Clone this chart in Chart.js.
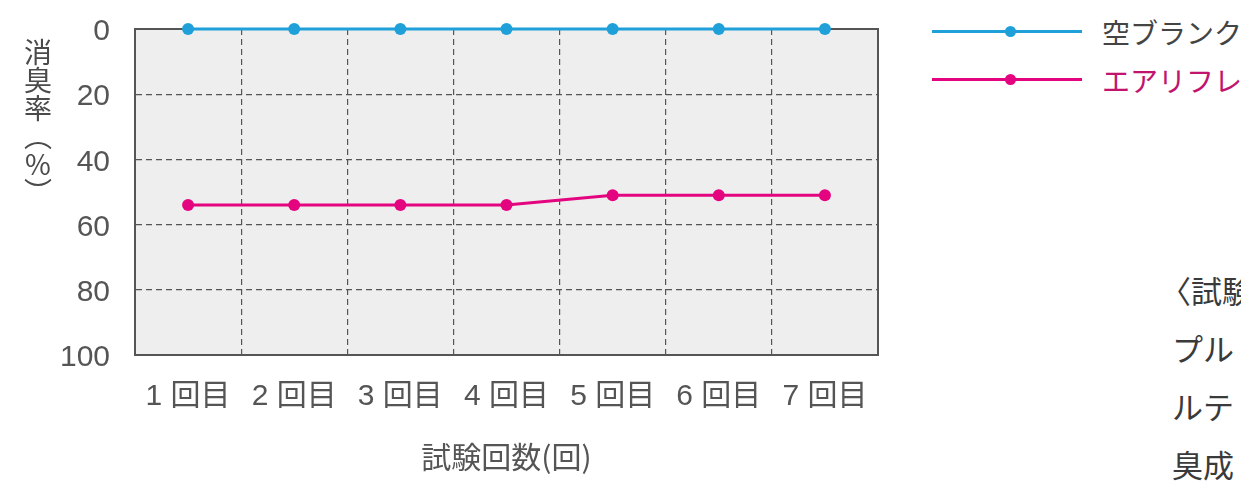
<!DOCTYPE html>
<html lang="ja">
<head>
<meta charset="UTF-8">
<title>消臭率</title>
<script src="https://cdn.jsdelivr.net/npm/chart.js"></script>
<style>
    html, body {
        margin: 0;
        padding: 0;
        width: 1241px;
        height: 483px;
        overflow: hidden;
        background: #ffffff;
        font-family: "Noto Sans CJK JP", "Liberation Sans", sans-serif;
    }
    .chart-box {
        position: absolute;
        left: 0;
        top: -14px;
        width: 900px;
        height: 497px;
    }
    .y-title {
        position: absolute;
        left: 23px;
        top: 38px;
        writing-mode: vertical-rl;
        text-orientation: upright;
        font-size: 28px;
        line-height: 30px;
        color: #4a4a4a;
    }
    .legend-row {
        position: absolute;
        left: 932px;
        height: 40px;
        white-space: nowrap;
    }
    .legend-line {
        position: absolute;
        left: 0;
        top: 18px;
        width: 150px;
        height: 3px;
    }
    .legend-dot {
        position: absolute;
        left: 73px;
        top: 14px;
        width: 11px;
        height: 11px;
        border-radius: 50%;
    }
    .legend-text {
        position: absolute;
        left: 170px;
        top: 0;
        font-size: 28px;
        line-height: 40px;
    }
    .note {
        position: absolute;
        left: 1172px;
        top: 261px;
        font-size: 31px;
        line-height: 58px;
        color: #3a3a3a;
        white-space: nowrap;
    }
</style>
</head>
<body>
    <div class="chart-box">
        <canvas id="shoshuChart"></canvas>
    </div>
    <div class="y-title">消臭率（%）</div>

    <div class="legend-row" style="top: 12px;">
        <div class="legend-line" style="background: #1fa0d8;"></div>
        <div class="legend-dot" style="background: #1fa0d8;"></div>
        <div class="legend-text" style="color: #444;">空ブランク</div>
    </div>
    <div class="legend-row" style="top: 60px;">
        <div class="legend-line" style="background: #e4047f;"></div>
        <div class="legend-dot" style="background: #e4047f;"></div>
        <div class="legend-text" style="color: #c0146f;">エアリフレ</div>
    </div>

    <div class="note"><span style="margin-left: -12px;">〈試験</span><br>プル<br>ルテ<br>臭成</div>

<script>
    // データ
    const kaisu = ['1 回目', '2 回目', '3 回目', '4 回目', '5 回目', '6 回目', '7 回目'];
    const blankData = [0, 0, 0, 0, 0, 0, 0];
    const airRefreData = [54, 54, 54, 54, 51, 51, 51];
    const yTicks = [0, 20, 40, 60, 80, 100];

    const fontTick = '"Liberation Sans", "Noto Sans CJK JP", sans-serif';

    // グラフ背景と枠
    const plotFrame = {
        id: 'plotFrame',
        beforeDraw(chart) {
            const { ctx, chartArea: a } = chart;
            ctx.save();
            ctx.fillStyle = '#eeeeee';
            ctx.fillRect(a.left, a.top, a.width, a.height);
            ctx.restore();
        },
        beforeDatasetsDraw(chart) {
            const { ctx, chartArea: a } = chart;
            ctx.save();
            ctx.strokeStyle = '#555555';
            ctx.lineWidth = 2;
            ctx.strokeRect(a.left, a.top, a.width, a.height);
            ctx.restore();
        }
    };

    const ctx = document.getElementById('shoshuChart').getContext('2d');
    new Chart(ctx, {
        type: 'line',
        data: {
            labels: kaisu,
            datasets: [
                {
                    label: '空ブランク',
                    data: blankData,
                    borderColor: '#1fa0d8',
                    backgroundColor: '#1fa0d8',
                    borderWidth: 3,
                    pointRadius: 6,
                    pointBorderWidth: 0,
                    tension: 0,
                    clip: false
                },
                {
                    label: 'エアリフレ',
                    data: airRefreData,
                    borderColor: '#e4047f',
                    backgroundColor: '#e4047f',
                    borderWidth: 3,
                    pointRadius: 6,
                    pointBorderWidth: 0,
                    tension: 0,
                    clip: false
                }
            ]
        },
        options: {
            responsive: true,
            maintainAspectRatio: false,
            animation: false,
            layout: {
                autoPadding: false,
                padding: { top: 14, right: 22, left: 0, bottom: 0 }
            },
            plugins: {
                legend: { display: false },
                tooltip: { enabled: false }
            },
            scales: {
                x: {
                    offset: true,
                    grid: {
                        offset: true,
                        color: '#555555',
                        lineWidth: 1.2,
                        drawTicks: false
                    },
                    border: { color: '#555555', width: 2, dash: [6, 4] },
                    ticks: {
                        color: '#555555',
                        padding: 24,
                        font: { family: fontTick, size: 30 }
                    },
                    title: {
                        display: true,
                        text: '試験回数(回)',
                        color: '#555555',
                        padding: { top: 6, bottom: 8 },
                        font: { family: '"Noto Sans CJK JP", sans-serif', size: 30 }
                    },
                    afterFit(scale) { scale.height = 128; }
                },
                y: {
                    reverse: true,
                    min: 0,
                    max: 100,
                    afterBuildTicks(scale) {
                        scale.ticks = yTicks.map(v => ({ value: v }));
                    },
                    grid: {
                        color: '#555555',
                        lineWidth: 1.2,
                        drawTicks: false
                    },
                    border: { color: '#555555', width: 2, dash: [6, 4] },
                    ticks: {
                        color: '#555555',
                        padding: 25,
                        labelOffset: 3,
                        font: { family: fontTick, size: 30 }
                    },
                    afterFit(scale) { scale.width = 135; }
                }
            }
        },
        plugins: [plotFrame]
    });
</script>
</body>
</html>
